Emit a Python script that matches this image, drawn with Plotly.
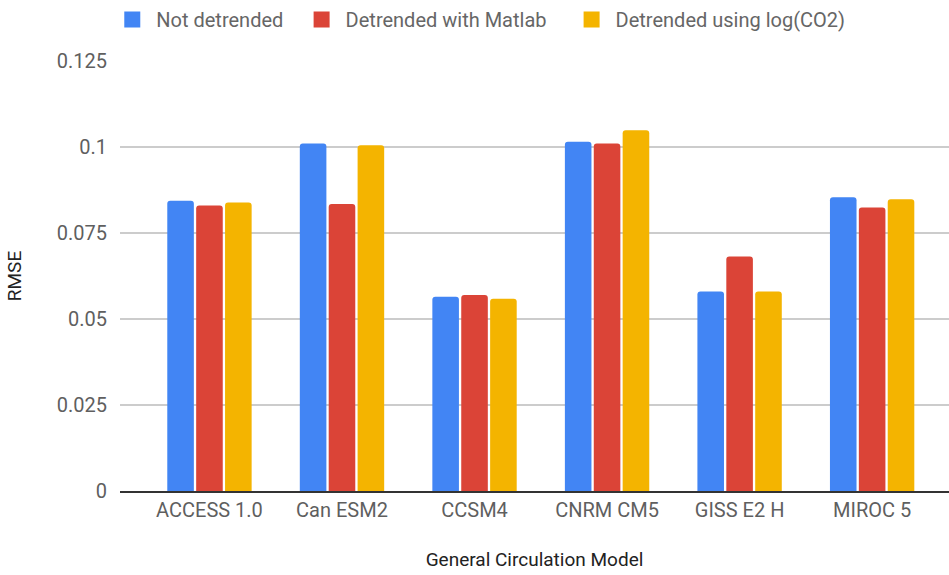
import plotly.graph_objects as go

# RMSE per General Circulation Model, three detrending variants
models = ["ACCESS 1.0", "Can ESM2", "CCSM4", "CNRM CM5", "GISS E2 H", "MIROC 5"]
not_detrended = [0.0844, 0.1010, 0.0565, 0.1015, 0.0580, 0.0854]
detrended_matlab = [0.0830, 0.0834, 0.0570, 0.1010, 0.0682, 0.0824]
detrended_logco2 = [0.0839, 0.1005, 0.0559, 0.1049, 0.0580, 0.0848]

y_ticks = [0, 0.025, 0.05, 0.075, 0.1, 0.125]
y_tick_text = ["0", "0.025", "0.05", "0.075", "0.1", "0.125"]

series = [
    ("Not detrended", not_detrended, "#4285F4"),
    ("Detrended with Matlab", detrended_matlab, "#DB4437"),
    ("Detrended using log(CO2)", detrended_logco2, "#F4B400"),
]
# left edge (container fraction) of each legend entry
legend_x = [0.1141, 0.3136, 0.5981]

fig = go.Figure()
for i, (name, vals, color) in enumerate(series):
    fig.add_trace(go.Bar(
        x=models, y=vals, name=name, showlegend=False,
        marker=dict(color=color, line=dict(width=0)),
    ))
for i, (name, vals, color) in enumerate(series):
    # square legend swatch for each series, one legend box per entry
    fig.add_trace(go.Scatter(
        x=[None], y=[None], mode="markers", name=name,
        marker=dict(symbol="square", size=16, color=color),
        legend="legend" if i == 0 else f"legend{i + 1}",
        hoverinfo="skip",
    ))

text_color = "#5f5f5f"
legend_style = dict(
    orientation="h", xref="container", xanchor="left",
    yref="container", y=1.0, yanchor="top",
    font=dict(size=20, color="#666666"),
    itemwidth=38, bgcolor="rgba(0,0,0,0)",
)

fig.update_layout(
    width=949, height=575,
    margin=dict(l=120, r=0, t=61, b=84),
    paper_bgcolor="white", plot_bgcolor="white",
    font=dict(family="Roboto", size=20, color=text_color),
    barmode="group", bargap=0.346, bargroupgap=0.08,
    barcornerradius=3,
    legend=dict(x=legend_x[0], **legend_style),
    legend2=dict(x=legend_x[1], **legend_style),
    legend3=dict(x=legend_x[2], **legend_style),
    xaxis=dict(
        range=[-0.675, 5.58],
        showgrid=False, showline=True, linecolor="#333333", linewidth=2,
        ticks="", tickfont=dict(size=20, color=text_color),
        title=dict(text="General Circulation Model", standoff=32,
                   font=dict(size=19, color="#222222")),
    ),
    yaxis=dict(
        range=[0, 0.125], tickvals=y_ticks, ticktext=y_tick_text,
        showgrid=True, gridcolor="#cccccc", gridwidth=1.5,
        zeroline=False, showline=False,
        ticks="outside", ticklen=8, tickcolor="rgba(0,0,0,0)",
        tickfont=dict(size=20, color=text_color),
        title=dict(text="RMSE", standoff=30,
                   font=dict(size=19, color="#222222")),
    ),
)

fig.write_html("out.html")
